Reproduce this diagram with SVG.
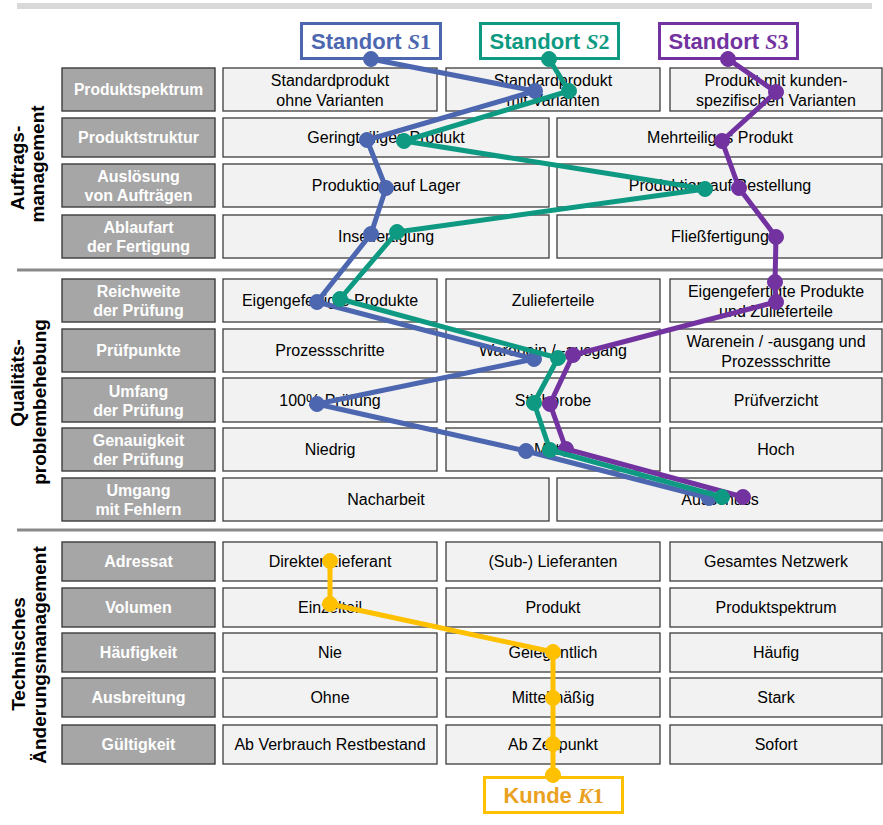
<svg xmlns="http://www.w3.org/2000/svg" width="883" height="825" viewBox="0 0 883 825">
  <style>
    .lbl { fill: #a6a6a6; stroke: #3c3c3c; stroke-width: 1.4; }
    .val { fill: #f2f2f2; stroke: #3c3c3c; stroke-width: 1.3; }
    .lt { font-family: "Liberation Sans", Arial, sans-serif; font-size: 16px; font-weight: bold; fill: #ffffff; text-anchor: middle; }
    .lt-s { font-size: 15.6px; }
    .vt { font-family: "Liberation Sans", Arial, sans-serif; font-size: 16px; fill: #000000; text-anchor: middle; }
    .sec { font-family: "Liberation Sans", Arial, sans-serif; font-size: 19px; font-weight: bold; fill: #000000; text-anchor: middle; }
    .hd { font-family: "Liberation Sans", Arial, sans-serif; font-size: 22px; font-weight: bold; text-anchor: middle; }
    .mi { font-family: "Liberation Serif", "Times New Roman", serif; font-style: italic; }
    .mn { font-family: "Liberation Serif", "Times New Roman", serif; }
    .hbox { fill: #ffffff; stroke-width: 3; }
    .path { fill: none; stroke-width: 5; stroke-linejoin: round; stroke-linecap: round; }
    .sep { stroke: #8a8a8a; stroke-width: 3; }
  </style>

  <!-- frame bars -->
  <rect x="17" y="3" width="855" height="6" fill="#d9d9d9"/>
  <line class="sep" x1="17" y1="270" x2="883" y2="270"/>
  <line class="sep" x1="17" y1="530" x2="883" y2="530"/>

  <!-- section titles -->
  <g id="sec-auftrag">
    <text class="sec" transform="translate(24,168) rotate(-90)">Auftrags-</text>
    <text class="sec" transform="translate(44,164) rotate(-90)">management</text>
  </g>
  <g id="sec-qualitaet">
    <text class="sec" transform="translate(24,383) rotate(-90)">Qualitäts-</text>
    <text class="sec" transform="translate(46,402) rotate(-90)">problembehebung</text>
  </g>
  <g id="sec-aenderung">
    <text class="sec" transform="translate(25,654) rotate(-90)">Technisches</text>
    <text class="sec" transform="translate(46,655) rotate(-90)">Änderungsmanagement</text>
  </g>

  <!-- ===== Auftragsmanagement ===== -->
  <g id="row-produktspektrum">
    <rect class="lbl" x="62" y="68" width="153" height="43"/>
    <text class="lt lt-s" x="138.5" y="95">Produktspektrum</text>
    <rect class="val" x="223" y="68" width="214" height="43"/>
    <text class="vt" x="330" y="85.5">Standardprodukt</text>
    <text class="vt" x="330" y="105.5">ohne Varianten</text>
    <rect class="val" x="446" y="68" width="214" height="43"/>
    <text class="vt" x="553" y="85.5">Standardprodukt</text>
    <text class="vt" x="553" y="105.5">mit Varianten</text>
    <rect class="val" x="670" y="68" width="212" height="43"/>
    <text class="vt" x="776" y="85.5">Produkt mit kunden-</text>
    <text class="vt" x="776" y="105.5">spezifischen Varianten</text>
  </g>
  <g id="row-produktstruktur">
    <rect class="lbl" x="62" y="118" width="153" height="39"/>
    <text class="lt" x="138.5" y="143.3">Produktstruktur</text>
    <rect class="val" x="223" y="118" width="326" height="39"/>
    <text class="vt" x="386" y="143.3">Geringteiliges Produkt</text>
    <rect class="val" x="557" y="118" width="325" height="39"/>
    <text class="vt" x="720" y="143.3">Mehrteiliges Produkt</text>
  </g>
  <g id="row-ausloesung">
    <rect class="lbl" x="62" y="164" width="153" height="43"/>
    <text class="lt" x="138.5" y="182">Auslösung</text>
    <text class="lt" x="138.5" y="201">von Aufträgen</text>
    <rect class="val" x="223" y="164" width="326" height="43"/>
    <text class="vt" x="386" y="191.3">Produktion auf Lager</text>
    <rect class="val" x="557" y="164" width="325" height="43"/>
    <text class="vt" x="720" y="191.3">Produktion auf Bestellung</text>
  </g>
  <g id="row-ablaufart">
    <rect class="lbl" x="62" y="215" width="153" height="43"/>
    <text class="lt" x="138.5" y="233">Ablaufart</text>
    <text class="lt" x="138.5" y="252">der Fertigung</text>
    <rect class="val" x="223" y="215" width="326" height="43"/>
    <text class="vt" x="386" y="242.3">Inselfertigung</text>
    <rect class="val" x="557" y="215" width="325" height="43"/>
    <text class="vt" x="720" y="242.3">Fließfertigung</text>
  </g>

  <!-- ===== Qualitätsproblembehebung ===== -->
  <g id="row-reichweite">
    <rect class="lbl" x="62" y="279" width="153" height="43"/>
    <text class="lt" x="138.5" y="297">Reichweite</text>
    <text class="lt" x="138.5" y="316">der Prüfung</text>
    <rect class="val" x="223" y="279" width="214" height="43"/>
    <text class="vt" x="330" y="306.3">Eigengefertigte Produkte</text>
    <rect class="val" x="446" y="279" width="214" height="43"/>
    <text class="vt" x="553" y="306.3">Zulieferteile</text>
    <rect class="val" x="670" y="279" width="212" height="43"/>
    <text class="vt" x="776" y="296.5">Eigengefertigte Produkte</text>
    <text class="vt" x="776" y="316.5">und Zulieferteile</text>
  </g>
  <g id="row-pruefpunkte">
    <rect class="lbl" x="62" y="329" width="153" height="43"/>
    <text class="lt" x="138.5" y="356.3">Prüfpunkte</text>
    <rect class="val" x="223" y="329" width="214" height="43"/>
    <text class="vt" x="330" y="356.3">Prozessschritte</text>
    <rect class="val" x="446" y="329" width="214" height="43"/>
    <text class="vt" x="553" y="356.3">Warenein / -ausgang</text>
    <rect class="val" x="670" y="329" width="212" height="43"/>
    <text class="vt" x="776" y="346.5">Warenein / -ausgang und</text>
    <text class="vt" x="776" y="366.5">Prozessschritte</text>
  </g>
  <g id="row-umfang">
    <rect class="lbl" x="62" y="378" width="153" height="44"/>
    <text class="lt" x="138.5" y="396.5">Umfang</text>
    <text class="lt" x="138.5" y="415.5">der Prüfung</text>
    <rect class="val" x="223" y="378" width="214" height="44"/>
    <text class="vt" x="330" y="405.6">100% Prüfung</text>
    <rect class="val" x="446" y="378" width="214" height="44"/>
    <text class="vt" x="553" y="405.6">Stichprobe</text>
    <rect class="val" x="670" y="378" width="212" height="44"/>
    <text class="vt" x="776" y="405.6">Prüfverzicht</text>
  </g>
  <g id="row-genauigkeit">
    <rect class="lbl" x="62" y="428" width="153" height="43"/>
    <text class="lt" x="138.5" y="446">Genauigkeit</text>
    <text class="lt" x="138.5" y="465">der Prüfung</text>
    <rect class="val" x="223" y="428" width="214" height="43"/>
    <text class="vt" x="330" y="455.3">Niedrig</text>
    <rect class="val" x="446" y="428" width="214" height="43"/>
    <text class="vt" x="553" y="455.3">Mittel</text>
    <rect class="val" x="670" y="428" width="212" height="43"/>
    <text class="vt" x="776" y="455.3">Hoch</text>
  </g>
  <g id="row-umgang">
    <rect class="lbl" x="62" y="478" width="153" height="43"/>
    <text class="lt" x="138.5" y="496">Umgang</text>
    <text class="lt" x="138.5" y="515">mit Fehlern</text>
    <rect class="val" x="223" y="478" width="326" height="43"/>
    <text class="vt" x="386" y="505.3">Nacharbeit</text>
    <rect class="val" x="557" y="478" width="325" height="43"/>
    <text class="vt" x="720" y="505.3">Ausschuss</text>
  </g>

  <!-- ===== Technisches Änderungsmanagement ===== -->
  <g id="row-adressat">
    <rect class="lbl" x="62" y="542" width="153" height="39"/>
    <text class="lt" x="138.5" y="567.3">Adressat</text>
    <rect class="val" x="223" y="542" width="214" height="39"/>
    <text class="vt" x="330" y="567.3">Direkter Lieferant</text>
    <rect class="val" x="446" y="542" width="214" height="39"/>
    <text class="vt" x="553" y="567.3">(Sub-) Lieferanten</text>
    <rect class="val" x="670" y="542" width="212" height="39"/>
    <text class="vt" x="776" y="567.3">Gesamtes Netzwerk</text>
  </g>
  <g id="row-volumen">
    <rect class="lbl" x="62" y="588" width="153" height="39"/>
    <text class="lt" x="138.5" y="613.3">Volumen</text>
    <rect class="val" x="223" y="588" width="214" height="39"/>
    <text class="vt" x="330" y="613.3">Einzelteil</text>
    <rect class="val" x="446" y="588" width="214" height="39"/>
    <text class="vt" x="553" y="613.3">Produkt</text>
    <rect class="val" x="670" y="588" width="212" height="39"/>
    <text class="vt" x="776" y="613.3">Produktspektrum</text>
  </g>
  <g id="row-haeufigkeit">
    <rect class="lbl" x="62" y="633" width="153" height="39"/>
    <text class="lt" x="138.5" y="658.3">Häufigkeit</text>
    <rect class="val" x="223" y="633" width="214" height="39"/>
    <text class="vt" x="330" y="658.3">Nie</text>
    <rect class="val" x="446" y="633" width="214" height="39"/>
    <text class="vt" x="553" y="658.3">Gelegentlich</text>
    <rect class="val" x="670" y="633" width="212" height="39"/>
    <text class="vt" x="776" y="658.3">Häufig</text>
  </g>
  <g id="row-ausbreitung">
    <rect class="lbl" x="62" y="678" width="153" height="39"/>
    <text class="lt" x="138.5" y="703.3">Ausbreitung</text>
    <rect class="val" x="223" y="678" width="214" height="39"/>
    <text class="vt" x="330" y="703.3">Ohne</text>
    <rect class="val" x="446" y="678" width="214" height="39"/>
    <text class="vt" x="553" y="703.3">Mittelmäßig</text>
    <rect class="val" x="670" y="678" width="212" height="39"/>
    <text class="vt" x="776" y="703.3">Stark</text>
  </g>
  <g id="row-gueltigkeit">
    <rect class="lbl" x="62" y="725" width="153" height="39"/>
    <text class="lt" x="138.5" y="750.3">Gültigkeit</text>
    <rect class="val" x="223" y="725" width="214" height="39"/>
    <text class="vt" x="330" y="750.3">Ab Verbrauch Restbestand</text>
    <rect class="val" x="446" y="725" width="214" height="39"/>
    <text class="vt" x="553" y="750.3">Ab Zeitpunkt</text>
    <rect class="val" x="670" y="725" width="212" height="39"/>
    <text class="vt" x="776" y="750.3">Sofort</text>
  </g>

  <!-- profile header boxes -->
  <g id="standort-s1">
    <rect class="hbox" x="301.5" y="23.5" width="139" height="35" stroke="#4c67b0"/>
    <text class="hd" x="371" y="49" fill="#4c67b0">Standort <tspan class="mi">S</tspan><tspan class="mn">1</tspan></text>
  </g>
  <g id="standort-s2">
    <rect class="hbox" x="480.5" y="23.5" width="138" height="35" stroke="#0e9a82"/>
    <text class="hd" x="549.5" y="49" fill="#0e9a82">Standort <tspan class="mi">S</tspan><tspan class="mn">2</tspan></text>
  </g>
  <g id="standort-s3">
    <rect class="hbox" x="659.5" y="23.5" width="138" height="35" stroke="#7232a0"/>
    <text class="hd" x="728.5" y="49" fill="#7232a0">Standort <tspan class="mi">S</tspan><tspan class="mn">3</tspan></text>
  </g>
  <g id="kunde-k1">
    <rect class="hbox" x="484.5" y="777.5" width="138" height="35" stroke="#ffc000"/>
    <text class="hd" x="553.5" y="803" fill="#e9a11f">Kunde <tspan class="mi">K</tspan><tspan class="mn">1</tspan></text>
  </g>

  <!-- profile connectors -->
  <g id="connectors">
    <g id="profile-s3" stroke="#7232a0" fill="#7232a0">
      <polyline class="path" points="728,59 776,92 722,141 739,188 776,237 775,282 776,302 573,355 550,404 566,449 743,497"/>
      <circle cx="728" cy="59" r="7.5"/><circle cx="776" cy="92" r="7.5"/><circle cx="722" cy="141" r="7.5"/>
      <circle cx="739" cy="188" r="7.5"/><circle cx="776" cy="237" r="7.5"/><circle cx="775" cy="282" r="7.5"/>
      <circle cx="776" cy="302" r="7.5"/><circle cx="573" cy="355" r="7.5"/><circle cx="550" cy="404" r="7.5"/>
      <circle cx="566" cy="449" r="7.5"/><circle cx="743" cy="497" r="7.5"/>
    </g>
    <g id="profile-s1" stroke="#4c67b0" fill="#4c67b0">
      <polyline class="path" points="371,59 535,91 367,140 386,188 371,234 317,302 534,359 317,404 526,451 709,498"/>
      <circle cx="371" cy="59" r="7.5"/><circle cx="535" cy="91" r="7.5"/><circle cx="367" cy="140" r="7.5"/>
      <circle cx="386" cy="188" r="7.5"/><circle cx="371" cy="234" r="7.5"/><circle cx="317" cy="302" r="7.5"/>
      <circle cx="534" cy="359" r="7.5"/><circle cx="317" cy="404" r="7.5"/><circle cx="526" cy="451" r="7.5"/>
      <circle cx="709" cy="498" r="7.5"/>
    </g>
    <g id="profile-s2" stroke="#0e9a82" fill="#0e9a82">
      <polyline class="path" points="549,59 569,91 404,141 705,189 397,232 340,299 558,358 534,403 550,450 722,497"/>
      <circle cx="549" cy="59" r="7.5"/><circle cx="569" cy="91" r="7.5"/><circle cx="404" cy="141" r="7.5"/>
      <circle cx="705" cy="189" r="7.5"/><circle cx="397" cy="232" r="7.5"/><circle cx="340" cy="299" r="7.5"/>
      <circle cx="558" cy="358" r="7.5"/><circle cx="534" cy="403" r="7.5"/><circle cx="550" cy="450" r="7.5"/>
      <circle cx="722" cy="497" r="7.5"/>
    </g>
    <g id="profile-k1" stroke="#ffc000" fill="#ffc000">
      <polyline class="path" points="330,561 330,604 553,652 553,698 553,744 553,775"/>
      <circle cx="330" cy="561" r="7.5"/><circle cx="330" cy="604" r="7.5"/><circle cx="553" cy="652" r="7.5"/>
      <circle cx="553" cy="698" r="7.5"/><circle cx="553" cy="744" r="7.5"/><circle cx="553" cy="775" r="7.5"/>
    </g>
  </g>
</svg>
